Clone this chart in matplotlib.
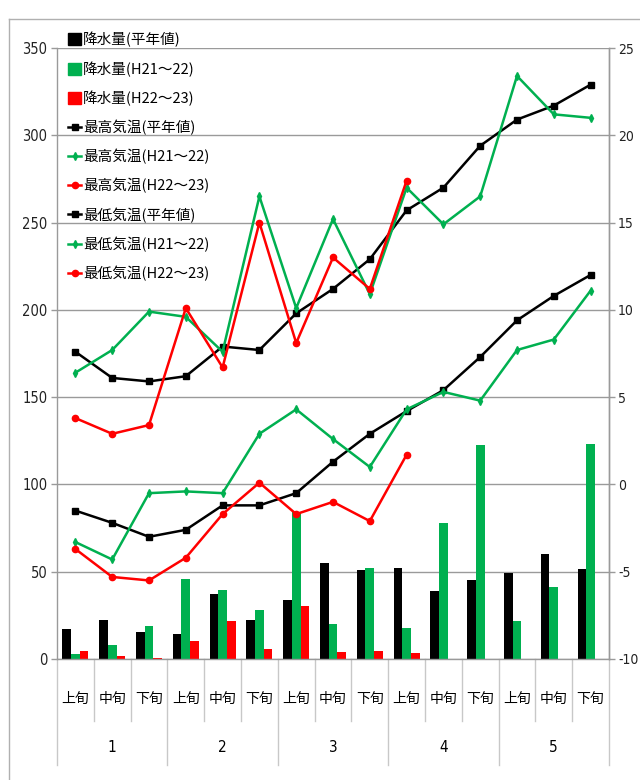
import numpy as np
import matplotlib
matplotlib.use("Agg")
import matplotlib.pyplot as plt
from matplotlib.patches import Patch
from matplotlib.lines import Line2D
from matplotlib import font_manager as fm

plt.rcParams['font.family'] = ['Noto Sans CJK JP', 'DejaVu Sans']
plt.rcParams['axes.unicode_minus'] = False

# ---------------- data ----------------
months = ["1", "2", "3", "4", "5"]
periods = ["上旬", "中旬", "下旬"]

precip_normal = [17.1, 22.1, 15.6, 14.3, 37.4, 22.5, 33.9, 55.0, 50.9, 52.0, 39.2, 45.2, 49.0, 60.4, 51.4]
precip_h21 = [3.0, 7.8, 18.7, 45.7, 39.8, 28.0, 84.2, 19.8, 52.0, 17.7, 77.8, 122.5, 21.9, 41.2, 123.0]
precip_h22 = [4.4, 2.0, 0.4, 10.3, 21.5, 5.7, 30.5, 3.8, 4.4, 3.4]

tmax_normal = [7.6, 6.1, 5.9, 6.2, 7.9, 7.7, 9.8, 11.2, 12.9, 15.7, 17.0, 19.4, 20.9, 21.7, 22.9]
tmax_h21 = [6.4, 7.7, 9.9, 9.6, 7.6, 16.5, 10.1, 15.2, 10.9, 17.0, 14.9, 16.5, 23.4, 21.2, 21.0]
tmax_h22 = [3.8, 2.9, 3.4, 10.1, 6.7, 15.0, 8.1, 13.0, 11.2, 17.4]

tmin_normal = [-1.5, -2.2, -3.0, -2.6, -1.2, -1.2, -0.5, 1.3, 2.9, 4.2, 5.4, 7.3, 9.4, 10.8, 12.0]
tmin_h21 = [-3.3, -4.3, -0.5, -0.4, -0.5, 2.9, 4.3, 2.6, 1.0, 4.3, 5.3, 4.8, 7.7, 8.3, 11.1]
tmin_h22 = [-3.7, -5.3, -5.5, -4.2, -1.7, 0.1, -1.7, -1.0, -2.1, 1.7]

legend_labels = ["降水量(平年値)", "降水量(H21～22)", "降水量(H22～23)",
                 "最高気温(平年値)", "最高気温(H21～22)", "最高気温(H22～23)",
                 "最低気温(平年値)", "最低気温(H21～22)", "最低気温(H22～23)"]

# ---------------- style ----------------
BLACK = "#000000"
GREEN = "#00B050"
RED = "#FF0000"
GRID = "#9a9a9a"

avail = {f.name for f in fm.fontManager.ttflist}
if 'Liberation Sans Narrow' in avail:
    NUMPROP = dict(family='Liberation Sans Narrow')
else:
    NUMPROP = dict(family='DejaVu Sans', stretch='condensed')

fig = plt.figure(figsize=(6.4, 7.8), dpi=100)
ax = fig.add_axes([57/640, 1 - 659/780, (609 - 57)/640, (659 - 48)/780])
ax2 = ax.twinx()

n = len(precip_normal)
x = np.arange(n)
w = 0.235

ax.bar(x - w, precip_normal, width=w, color=BLACK, zorder=2)
ax.bar(x, precip_h21, width=w, color=GREEN, zorder=2)
ax.bar(np.arange(len(precip_h22)) + w, precip_h22, width=w, color=RED, zorder=2)

ax.set_ylim(0, 350)
ax.set_yticks(np.arange(0, 351, 50))
ax.set_xlim(-0.5, n - 0.5)
ax.yaxis.grid(True, color=GRID, linewidth=1.0, zorder=0)
ax.set_axisbelow(True)

lw = 1.8
def line(a, vals, color, marker, ms):
    a.plot(np.arange(len(vals)), vals, color=color, linewidth=lw, marker=marker,
           markersize=ms, markeredgecolor=color, markerfacecolor=color, zorder=3)

line(ax2, tmax_normal, BLACK, 's', 5)
line(ax2, tmax_h21, GREEN, 'd', 4)
line(ax2, tmax_h22, RED, 'o', 4.5)
line(ax2, tmin_normal, BLACK, 's', 5)
line(ax2, tmin_h21, GREEN, 'd', 4)
line(ax2, tmin_h22, RED, 'o', 4.5)

ax2.set_ylim(-10, 25)
ax2.set_yticks(np.arange(-10, 26, 5))

for a in (ax, ax2):
    for s in a.spines.values():
        s.set_color(GRID)
        s.set_linewidth(1.0)
    a.spines['top'].set_visible(False)
    a.tick_params(axis='y', colors=GRID, length=4, width=1.0, labelcolor="#222222",
                  labelsize=10.5, pad=3)
ax2.tick_params(axis='y', labelsize=10, pad=2.5)
for a in (ax, ax2):
    for lab in a.get_yticklabels():
        lab.set(**NUMPROP)
ax2.spines['left'].set_visible(False)
ax2.spines['bottom'].set_visible(False)

# x-axis two-level labels
ax.set_xticks(x)
ax.set_xticklabels([periods[i % 3] for i in range(n)], fontsize=10)
ax.tick_params(axis='x', length=0, pad=24)

trans = ax.get_xaxis_transform()
ax_h = (659 - 48)
small_bottom = -(721 - 659) / ax_h
long_bottom = -(765 - 659) / ax_h
for i in range(n + 1):
    xb = i - 0.5
    yb = long_bottom if i % 3 == 0 else small_bottom
    ax.add_line(Line2D([xb, xb], [0, yb], transform=trans, color="#c8c8c8",
                       linewidth=1.0, clip_on=False))
for j, m in enumerate(months):
    ax.text(3 * j + 1, -(747 - 659) / ax_h, m, transform=trans, ha='center', va='center',
            fontsize=11, **NUMPROP)

# legend
handles = [
    Patch(facecolor=BLACK, edgecolor=BLACK),
    Patch(facecolor=GREEN, edgecolor=GREEN),
    Patch(facecolor=RED, edgecolor=RED),
    Line2D([], [], color=BLACK, marker='s', markersize=5, linewidth=lw),
    Line2D([], [], color=GREEN, marker='d', markersize=4, linewidth=lw),
    Line2D([], [], color=RED, marker='o', markersize=4.5, linewidth=lw),
    Line2D([], [], color=BLACK, marker='s', markersize=5, linewidth=lw),
    Line2D([], [], color=GREEN, marker='d', markersize=4, linewidth=lw),
    Line2D([], [], color=RED, marker='o', markersize=4.5, linewidth=lw),
]
leg = ax2.legend(handles, legend_labels, loc='upper left',
                 bbox_to_anchor=(68/640, 1 - 32/780), bbox_transform=fig.transFigure,
                 frameon=False, fontsize=10.5, handlelength=0.9, handleheight=0.9,
                 handletextpad=0.15, labelspacing=0.95, borderaxespad=0, borderpad=0)

# outer chart border (left and top edges visible in the frame)
border = dict(transform=fig.transFigure, color="#b0b0b0", linewidth=1.0)
fig.add_artist(Line2D([9/640, 9/640], [0, 1 - 19/780], **border))
fig.add_artist(Line2D([9/640, 1], [1 - 19/780, 1 - 19/780], **border))

fig.savefig("out.png", dpi=100)
